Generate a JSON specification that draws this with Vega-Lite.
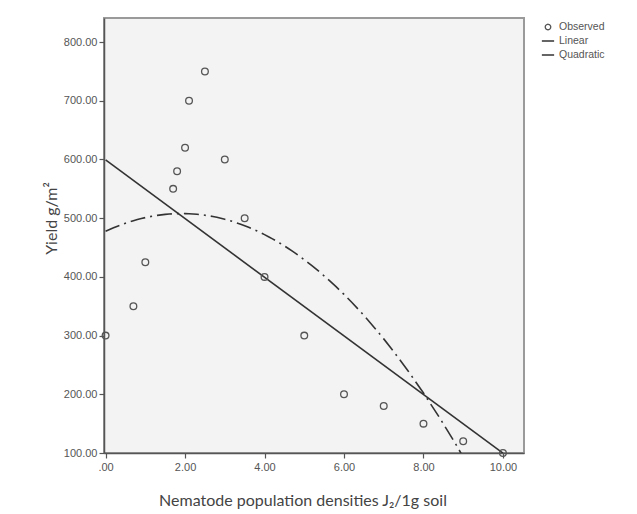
{
  "$schema": "https://vega.github.io/schema/vega-lite/v6.json",
  "width": 420,
  "height": 435,
  "autosize": {"type": "none"},
  "padding": {"left": 104, "top": 18, "right": 113, "bottom": 61},
  "background": "white",
  "config": {
    "view": {"fill": "#f3f3f3", "stroke": "#9a9a9a", "strokeWidth": 2},
    "axis": {
      "grid": false,
      "domainColor": "#555",
      "domainWidth": 1.5,
      "tickColor": "#555",
      "tickSize": 5,
      "tickWidth": 1.2,
      "labelColor": "#555",
      "labelFont": "Liberation Sans",
      "labelFontSize": 11,
      "titleFont": "Lato",
      "titleFontWeight": "normal",
      "titleColor": "#444",
      "titleFontSize": 16
    }
  },
  "data": {
    "values": [
      {"density": 0.0, "yield": 300},
      {"density": 0.7, "yield": 350},
      {"density": 1.0, "yield": 425},
      {"density": 1.7, "yield": 550},
      {"density": 1.8, "yield": 580},
      {"density": 2.0, "yield": 620},
      {"density": 2.1, "yield": 700},
      {"density": 2.5, "yield": 750},
      {"density": 3.0, "yield": 600},
      {"density": 3.5, "yield": 500},
      {"density": 4.0, "yield": 400},
      {"density": 5.0, "yield": 300},
      {"density": 6.0, "yield": 200},
      {"density": 7.0, "yield": 180},
      {"density": 8.0, "yield": 150},
      {"density": 9.0, "yield": 120},
      {"density": 10.0, "yield": 100}
    ]
  },
  "encoding": {
    "x": {
      "field": "density",
      "type": "quantitative",
      "scale": {"domain": [-0.04, 10.53], "nice": false, "zero": false},
      "axis": {
        "values": [0, 2, 4, 6, 8, 10],
        "labelExpr": "datum.value === 0 ? '.00' : format(datum.value, '.2f')",
        "labelPadding": 3,
        "title": "Nematode population densities J₂/1g soil",
        "titleX": 198.5,
        "titleY": 52,
        "titleAlign": "center",
        "titleBaseline": "alphabetic",
        "titleAnchor": null
      }
    },
    "y": {
      "field": "yield",
      "type": "quantitative",
      "scale": {"domain": [100, 841], "nice": false, "zero": false},
      "axis": {
        "values": [100, 200, 300, 400, 500, 600, 700, 800],
        "format": ".2f",
        "labelPadding": 2,
        "title": "Yield g/m²",
        "titleX": -53,
        "titleY": 200,
        "titleAngle": -90,
        "titleAlign": "center",
        "titleBaseline": "middle"
      }
    }
  },
  "layer": [
    {
      "transform": [{"regression": "yield", "on": "density"}],
      "mark": {"type": "line", "strokeWidth": 1.6, "clip": true},
      "encoding": {
        "color": {
          "datum": "Linear",
          "scale": {"domain": ["Observed", "Linear", "Quadratic"], "range": ["#555", "#333", "#333"]},
          "legend": {
            "orient": "none",
            "legendX": 437,
            "legendY": 2,
            "title": null,
            "labelFont": "Liberation Sans",
            "labelFontSize": 10.5,
            "labelColor": "#555",
            "rowPadding": 1,
            "symbolOffset": 0,
            "labelOffset": 4,
            "encode": {
              "symbols": {
                "update": {
                  "shape": {"signal": "datum.value === 'Observed' ? 'circle' : 'stroke'"},
                  "size": {"signal": "datum.value === 'Observed' ? 30 : 150"},
                  "fill": {"value": "transparent"},
                  "stroke": {"value": "#444"},
                  "strokeWidth": {"value": 1.3},
                  "strokeDash": {"value": [1, 0]},
                  "opacity": {"value": 1}
                }
              }
            }
          }
        }
      }
    },
    {
      "transform": [{"regression": "yield", "on": "density", "method": "poly", "order": 2}],
      "mark": {"type": "line", "strokeWidth": 1.6, "strokeDash": [15, 5, 2, 5], "clip": true},
      "encoding": {"color": {"datum": "Quadratic"}}
    },
    {
      "mark": {"type": "point", "filled": false, "size": 45, "strokeWidth": 1.3, "opacity": 1},
      "encoding": {"color": {"datum": "Observed"}}
    }
  ]
}
